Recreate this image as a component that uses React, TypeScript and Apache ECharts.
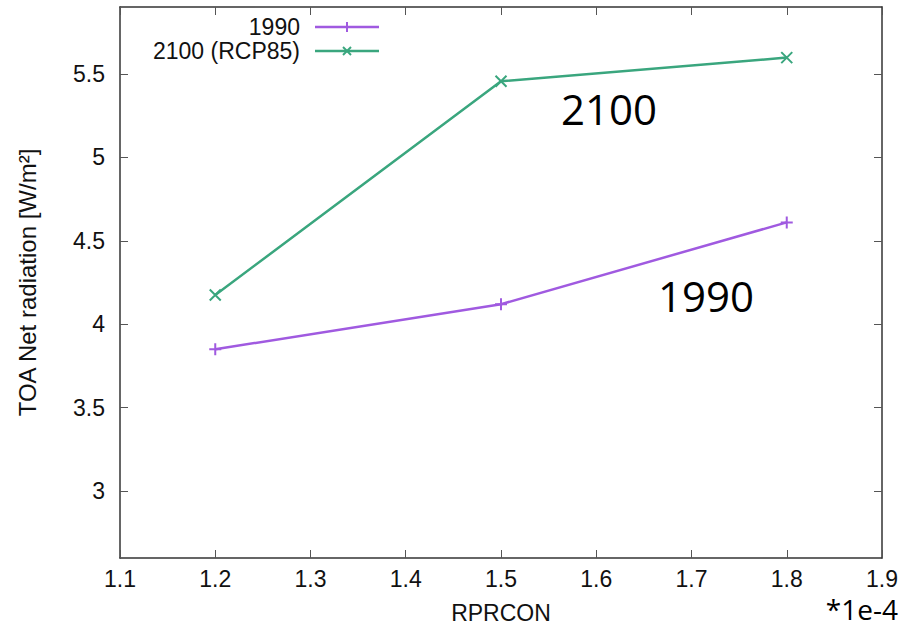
import React, { useEffect, useRef } from "react";
import * as echarts from "echarts";

const xTicks = [1.1, 1.2, 1.3, 1.4, 1.5, 1.6, 1.7, 1.8, 1.9];
const yTicks = [3, 3.5, 4, 4.5, 5, 5.5];
const rprcon = [1.2, 1.5, 1.8];
const toa1990 = [3.85, 4.12, 4.61];
const toa2100 = [4.175, 5.455, 5.597];
const seriesNames = ["1990", "2100 (RCP85)"];

const PURPLE = "#a05ae0";
const GREEN = "#3aa67e";
const FONT = "'Liberation Sans', Arial, Helvetica, sans-serif";
const PLUS = "path://M0,5L10,5M5,0L5,10";
const CROSS = "path://M0,0L10,10M10,0L0,10";

export default function App() {
  const ref = useRef<HTMLDivElement>(null);
  useEffect(() => {
    if (!ref.current) return;
    const chart = echarts.init(ref.current, undefined, { renderer: "svg" });
    const axisLine = { show: true, lineStyle: { color: "#333", width: 1.5 } };
    const tick = { show: true, inside: true, length: 8, lineStyle: { color: "#555", width: 1 } };
    const legendItem = (y: number, name: string, color: string, cross: boolean) => {
      const mx = 347;
      const s = 4;
      const marker = cross
        ? [
            { type: "line", shape: { x1: mx - s, y1: y - s, x2: mx + s, y2: y + s }, style: { stroke: color, lineWidth: 2 } },
            { type: "line", shape: { x1: mx + s, y1: y - s, x2: mx - s, y2: y + s }, style: { stroke: color, lineWidth: 2 } },
          ]
        : [
            { type: "line", shape: { x1: mx, y1: y - s - 1, x2: mx, y2: y + s + 1 }, style: { stroke: color, lineWidth: 2 } },
          ];
      return [
        { type: "text", x: 300, y, style: { text: name, font: `23px ${FONT}`, fill: "#111", align: "right", verticalAlign: "middle" } },
        { type: "line", shape: { x1: 315, y1: y, x2: 379, y2: y }, style: { stroke: color, lineWidth: 2.5 } },
        ...marker,
      ];
    };
    chart.setOption({
      animation: false,
      backgroundColor: "#fff",
      grid: { left: 120, right: 22, top: 7, bottom: 70, containLabel: false, outerBoundsMode: "none" },
      xAxis: [
        {
          type: "value",
          min: 1.1,
          max: 1.9,
          name: "RPRCON",
          nameLocation: "middle",
          nameGap: 43,
          nameTextStyle: { fontFamily: FONT, fontSize: 23, color: "#111" },
          axisLine,
          axisTick: { ...tick, customValues: xTicks },
          axisLabel: { customValues: xTicks, fontFamily: FONT, fontSize: 23, color: "#111", margin: 9 },
          splitLine: { show: false },
        },
        {
          type: "value",
          position: "top",
          min: 1.1,
          max: 1.9,
          axisLine,
          axisTick: { ...tick, customValues: xTicks },
          axisLabel: { show: false, customValues: xTicks },
          splitLine: { show: false },
        },
      ],
      yAxis: [
        {
          type: "value",
          min: 2.6,
          max: 5.9,
          name: "TOA Net radiation [W/m²]",
          nameLocation: "middle",
          nameGap: 81,
          nameTextStyle: { fontFamily: FONT, fontSize: 24, color: "#111" },
          axisLine,
          axisTick: { ...tick, customValues: yTicks },
          axisLabel: { customValues: yTicks, fontFamily: FONT, fontSize: 23, color: "#111", margin: 15 },
          splitLine: { show: false },
        },
        {
          type: "value",
          position: "right",
          min: 2.6,
          max: 5.9,
          axisLine,
          axisTick: { ...tick, customValues: yTicks },
          axisLabel: { show: false, customValues: yTicks },
          splitLine: { show: false },
        },
      ],
      series: [
        {
          name: seriesNames[0],
          type: "line",
          data: rprcon.map((x, i) => [x, toa1990[i]]),
          symbol: PLUS,
          symbolSize: 12,
          lineStyle: { color: PURPLE, width: 2.5 },
          itemStyle: { color: PURPLE, borderColor: PURPLE, borderWidth: 2 },
        },
        {
          name: seriesNames[1],
          type: "line",
          data: rprcon.map((x, i) => [x, toa2100[i]]),
          symbol: CROSS,
          symbolSize: 11,
          lineStyle: { color: GREEN, width: 2.5 },
          itemStyle: { color: GREEN, borderColor: GREEN, borderWidth: 2 },
        },
      ],
      graphic: [
        ...legendItem(27, seriesNames[0], PURPLE, false),
        ...legendItem(51, seriesNames[1], GREEN, true),
        { type: "text", x: 561, y: 108, style: { text: "2100", font: "42px 'Open Sans', sans-serif", fill: "#000", verticalAlign: "middle" } },
        { type: "text", x: 658, y: 295, style: { text: "1990", font: "42px 'Open Sans', sans-serif", fill: "#000", verticalAlign: "middle" } },
        { type: "text", x: 898, y: 609, style: { text: "*1e-4", font: "28px 'Open Sans', sans-serif", fill: "#000", align: "right", verticalAlign: "middle" } },
      ],
    });
    return () => chart.dispose();
  }, []);
  return <div ref={ref} style={{ width: 904, height: 628, position: "fixed", left: 0, top: 0 }} />;
}
